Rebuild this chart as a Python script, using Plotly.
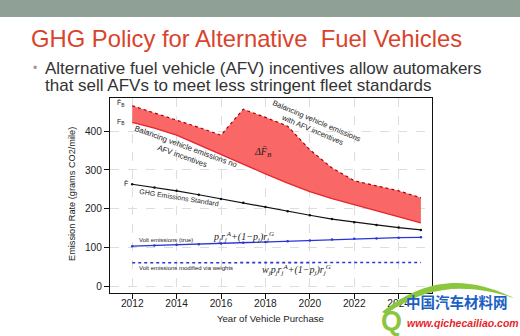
import plotly.graph_objects as go

# ---- data -------------------------------------------------------------
years = [2012, 2013, 2014, 2015, 2016, 2017, 2018, 2019, 2020, 2021, 2022, 2023, 2024, 2025]
fb_with_afv = [466, 448, 429, 410, 390, 457, 436, 413, 352, 305, 272, 259, 246, 228]
fb_no_afv = [423, 408, 390, 365, 338, 313, 290, 266, 244, 226, 210, 195, 180, 163]
ghg_standard = [263, 255, 246, 236, 225, 215, 204, 193, 183, 173, 165, 158, 151, 145]
volt_true = [103, 105, 107, 108, 110, 112, 114, 116, 118, 120, 122, 123, 125, 126]
volt_weighted = [60, 60, 60, 60, 60, 61, 61, 61, 61, 61, 61, 61, 61, 61]
x_ticks = [2012, 2014, 2016, 2018, 2020, 2022, 2024]
y_ticks = [0, 100, 200, 300, 400]

W, H = 520, 336
L, R, T, B = 110, 432, 98, 293   # plot area in pixels
FONT = "Liberation Sans"


def px(x, y):
    """pixel position -> paper coordinates"""
    return (x - L) / (R - L), (B - y) / (B - T)


fig = go.Figure()

# red band between the two balancing-vehicle curves
fig.add_trace(go.Scatter(x=years, y=fb_no_afv, mode="lines",
                         line=dict(color="#e4262c", width=1.3),
                         showlegend=False, hoverinfo="skip"))
fig.add_trace(go.Scatter(x=years, y=fb_with_afv, mode="lines",
                         line=dict(color="#a80000", width=1.2, dash="dot"),
                         fill="tonexty", fillcolor="#fa6767",
                         showlegend=False, hoverinfo="skip"))
fig.add_trace(go.Scatter(x=years, y=ghg_standard, mode="lines+markers",
                         line=dict(color="#111111", width=1.2),
                         marker=dict(size=2.5, color="#111111"),
                         showlegend=False, hoverinfo="skip"))
fig.add_trace(go.Scatter(x=years, y=volt_true, mode="lines+markers",
                         line=dict(color="#2a35d8", width=1.3),
                         marker=dict(size=2.5, color="#2a35d8"),
                         showlegend=False, hoverinfo="skip"))
fig.add_trace(go.Scatter(x=years, y=volt_weighted, mode="lines",
                         line=dict(color="#2a35d8", width=1.6, dash="dot"),
                         showlegend=False, hoverinfo="skip"))

ann = []


def data_note(text, x, y, size=7, angle=0, xanchor="center", family=FONT, color="#222222"):
    ann.append(dict(text=text, x=x, y=y, xref="x", yref="y", showarrow=False,
                    textangle=angle, xanchor=xanchor, yanchor="middle",
                    font=dict(family=family, size=size, color=color)))


def page_note(text, x, y, size, color, xanchor="left", angle=0, family=FONT, yanchor="middle"):
    xp, yp = px(x, y)
    ann.append(dict(text=text, x=xp, y=yp, xref="paper", yref="paper", showarrow=False,
                    textangle=angle, xanchor=xanchor, yanchor=yanchor,
                    font=dict(family=family, size=size, color=color)))


# labels inside the plot
data_note("F̄<sub>B</sub>", 2011.5, 472, size=7)
data_note("F<sub>B</sub>", 2011.5, 424, size=7)
data_note("F̄", 2011.72, 266, size=7)
data_note("<i>ΔF̄<sub>B</sub></i>", 2017.9, 346, size=10, family="Liberation Serif")
data_note("Balancing vehicle emissions no<br>AFV incentives", 2014.35, 349, size=7.8, angle=20)
data_note("Balancing vehicle emissions<br>with AFV incentives", 2020.2, 414, size=7.6, angle=23)
data_note("GHG Emissions Standard", 2014.1, 229, size=7, angle=9)
data_note("Volt emissions (true)", 2012.2, 119, size=6, xanchor="left")
data_note("<i>p<sub>j</sub>r<sub>j</sub><sup>A</sup>+(1−p<sub>j</sub>)r<sub>j</sub><sup>G</sup></i>",
          2015.55, 126, size=10, xanchor="left", family="Liberation Serif")
data_note("Volt emissions modified via weights", 2012.2, 46, size=6, xanchor="left")
data_note("<i>w<sub>j</sub>p<sub>j</sub>r<sub>j</sub><sup>A</sup>+(1−p<sub>j</sub>)r<sub>j</sub><sup>G</sup></i>",
          2017.75, 42, size=10, xanchor="left", family="Liberation Serif")

# axis titles
page_note("Emission Rate (grams CO2/mile)", 72, 194, 9.2, "#222222", xanchor="center", angle=-90)
page_note("Year of Vehicle Purchase", 270, 318, 9.6, "#222222", xanchor="center")

# slide heading and bullet
page_note("GHG Policy for Alternative  Fuel Vehicles", 29, 38, 23.8, "#d9432c")
page_note("•", 31, 68, 12, "#999999")
page_note("Alternative fuel vehicle (AFV) incentives allow automakers", 43, 68, 17, "#333333")
page_note("that sell AFVs to meet less stringent fleet standards", 43, 85, 17, "#333333")

# site mark in the corner
page_note("<b>中国汽车材料网</b>", 404, 301, 14.5, "#1b5fc4", family="Noto Sans CJK SC")
page_note("<b><i>www.qichecailiao.com</i></b>", 405, 323, 10.5, "#e8262a")
page_note("<b>Q</b>", 391, 321, 27, "#8cc63f", xanchor="center")

shapes = []
# grey band across the top of the slide
x0, y0 = px(0, 17)
x1, y1 = px(W, 0)
shapes.append(dict(type="rect", xref="paper", yref="paper", x0=x0, y0=y0, x1=x1, y1=y1,
                   fillcolor="#8fa096", line=dict(width=0), layer="below"))

# green swoosh
pts = [(382, 312), (430, 274), (472, 278), (514, 298), (470, 284), (430, 283), (386, 314)]
p = [px(a, b) for a, b in pts]
path = (f"M {p[0][0]:.4f},{p[0][1]:.4f} "
        f"C {p[1][0]:.4f},{p[1][1]:.4f} {p[2][0]:.4f},{p[2][1]:.4f} {p[3][0]:.4f},{p[3][1]:.4f} "
        f"C {p[4][0]:.4f},{p[4][1]:.4f} {p[5][0]:.4f},{p[5][1]:.4f} {p[6][0]:.4f},{p[6][1]:.4f} Z")
shapes.append(dict(type="path", xref="paper", yref="paper", path=path,
                   fillcolor="#8cc63f", line=dict(width=0)))

axis_common = dict(showline=True, linecolor="#111111", linewidth=1, mirror=True,
                   ticks="outside", ticklen=5, tickcolor="#111111",
                   showgrid=True, gridcolor="#dddddd", griddash="dash", gridwidth=1,
                   zeroline=False,
                   tickfont=dict(family=FONT, size=10.2, color="#222222"))

fig.update_layout(
    width=W, height=H,
    margin=dict(l=L, r=W - R, t=T, b=H - B),
    paper_bgcolor="white", plot_bgcolor="white",
    xaxis=dict(range=[2011, 2025.5], tickvals=x_ticks, ticklabelstandoff=-4, **axis_common),
    yaxis=dict(range=[-18, 486], tickvals=y_ticks, **axis_common),
    annotations=ann, shapes=shapes, showlegend=False,
)

fig.write_html("out.html")
